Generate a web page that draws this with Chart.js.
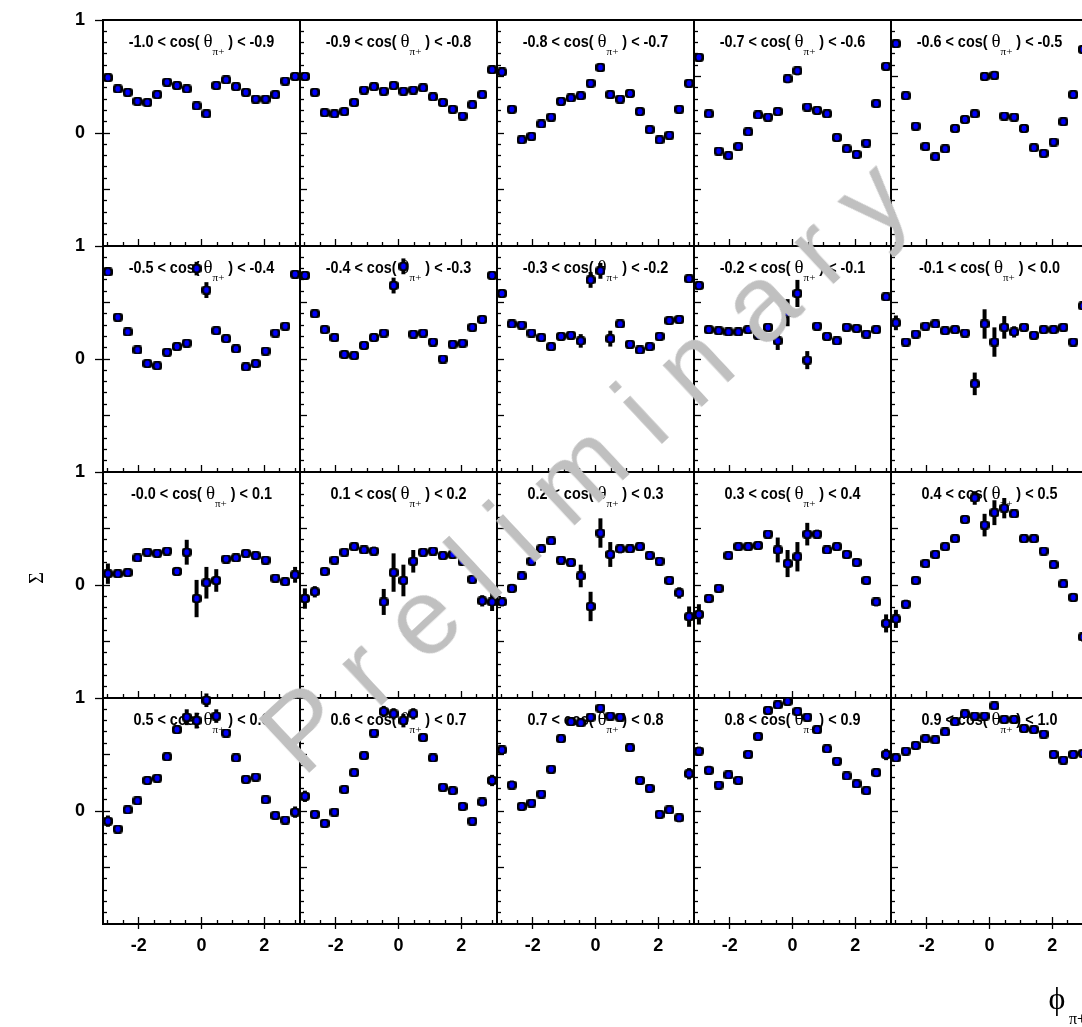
<!DOCTYPE html>
<html>
<head>
<meta charset="utf-8">
<script src="https://cdn.jsdelivr.net/npm/chart.js@4.4.0/dist/chart.umd.min.js"></script>
<style>
  html, body { margin: 0; padding: 0; background: #fff; }
  body { position: relative; width: 1082px; height: 1027px; overflow: hidden; }
  canvas.panel { position: absolute; }
  #wm { position: absolute; left: 584px; top: 466px; z-index: 5;
        transform: translate(-50%, -50%) rotate(-43deg);
        font: 108px "Liberation Sans", Arial, sans-serif; line-height: 1;
        color: rgb(192, 192, 192); white-space: pre; pointer-events: none; }
</style>
</head>
<body>
<div id="wm">P r e l i m i n a r y</div>
<script>
// phi bin centres (20 bins of 18 deg)
const phiBins = [-2.985, -2.670, -2.356, -2.042, -1.728, -1.414, -1.100, -0.785, -0.471, -0.157,
                 0.157, 0.471, 0.785, 1.100, 1.414, 1.728, 2.042, 2.356, 2.670, 2.985];

const cosLo = ['-1.0','-0.9','-0.8','-0.7','-0.6','-0.5','-0.4','-0.3','-0.2','-0.1',
               '-0.0','0.1','0.2','0.3','0.4','0.5','0.6','0.7','0.8','0.9'];
const cosHi = ['-0.9','-0.8','-0.7','-0.6','-0.5','-0.4','-0.3','-0.2','-0.1','0.0',
               '0.1','0.2','0.3','0.4','0.5','0.6','0.7','0.8','0.9','1.0'];

const sigma01 = [0.49,0.39,0.36,0.28,0.27,0.34,0.45,0.42,0.39,0.24,0.17,0.42,0.47,0.41,0.36,0.30,0.30,0.34,0.46,0.50];
const sigma02 = [0.50,0.36,0.18,0.17,0.19,0.27,0.38,0.41,0.37,0.42,0.37,0.38,0.40,0.32,0.27,0.21,0.15,0.25,0.34,0.56];
const sigma03 = [0.54,0.21,-0.06,-0.03,0.08,0.14,0.28,0.31,0.33,0.44,0.58,0.34,0.30,0.35,0.19,0.03,-0.06,-0.02,0.21,0.44];
const sigma04 = [0.67,0.17,-0.16,-0.20,-0.12,0.01,0.16,0.14,0.19,0.48,0.55,0.23,0.20,0.17,-0.04,-0.14,-0.19,-0.09,0.26,0.59];
const sigma05 = [0.79,0.33,0.06,-0.12,-0.21,-0.14,0.04,0.12,0.17,0.50,0.51,0.15,0.14,0.04,-0.13,-0.18,-0.08,0.10,0.34,0.74];
const sigma06 = [0.77,0.37,0.24,0.08,-0.04,-0.06,0.06,0.11,0.14,0.80,0.61,0.25,0.18,0.09,-0.07,-0.04,0.07,0.23,0.29,0.75];
const sigma07 = [0.74,0.40,0.26,0.19,0.04,0.03,0.12,0.19,0.23,0.65,0.82,0.22,0.23,0.15,0.00,0.13,0.14,0.28,0.35,0.74];
const sigma08 = [0.58,0.31,0.30,0.23,0.19,0.11,0.20,0.21,0.16,0.70,0.78,0.18,0.31,0.13,0.08,0.11,0.20,0.34,0.35,0.71];
const sigma09 = [0.65,0.26,0.25,0.24,0.24,0.26,0.21,0.28,0.16,0.41,0.58,-0.01,0.29,0.20,0.16,0.28,0.27,0.22,0.26,0.55];
const sigma10 = [0.32,0.15,0.22,0.29,0.31,0.25,0.26,0.23,-0.22,0.31,0.15,0.28,0.24,0.28,0.21,0.26,0.26,0.28,0.15,0.47];
const sigma11 = [0.10,0.10,0.11,0.24,0.29,0.28,0.30,0.12,0.29,-0.12,0.02,0.04,0.23,0.24,0.28,0.26,0.22,0.06,0.03,0.09];
const sigma12 = [-0.12,-0.06,0.12,0.22,0.29,0.34,0.31,0.30,-0.15,0.11,0.04,0.21,0.29,0.30,0.26,0.27,0.21,0.05,-0.14,-0.15];
const sigma13 = [-0.15,-0.03,0.08,0.21,0.32,0.39,0.22,0.20,0.08,-0.19,0.46,0.27,0.32,0.32,0.34,0.26,0.21,0.04,-0.07,-0.28];
const sigma14 = [-0.26,-0.12,-0.03,0.26,0.34,0.34,0.35,0.45,0.31,0.19,0.25,0.45,0.45,0.31,0.34,0.27,0.20,0.04,-0.15,-0.34];
const sigma15 = [-0.30,-0.17,0.04,0.19,0.27,0.34,0.41,0.58,0.77,0.53,0.64,0.68,0.63,0.41,0.41,0.30,0.18,0.01,-0.11,-0.46];
const sigma16 = [-0.09,-0.16,0.01,0.09,0.27,0.29,0.48,0.72,0.83,0.80,0.98,0.84,0.69,0.47,0.28,0.30,0.10,-0.04,-0.08,-0.01];
const sigma17 = [0.13,-0.03,-0.11,-0.01,0.19,0.34,0.49,0.69,0.88,0.86,0.80,0.86,0.65,0.47,0.21,0.18,0.04,-0.09,0.08,0.27];
const sigma18 = [0.54,0.23,0.04,0.07,0.15,0.37,0.64,0.79,0.78,0.83,0.91,0.84,0.83,0.56,0.27,0.20,-0.03,0.01,-0.06,0.33];
const sigma19 = [0.53,0.36,0.23,0.32,0.27,0.50,0.66,0.89,0.94,0.97,0.88,0.83,0.72,0.55,0.44,0.31,0.24,0.18,0.34,0.50];
const sigma20 = [0.47,0.53,0.58,0.64,0.63,0.70,0.79,0.86,0.84,0.84,0.93,0.81,0.81,0.73,0.72,0.68,0.50,0.45,0.50,0.51];

const err01 = [0.02,0.02,0.02,0.02,0.02,0.02,0.02,0.02,0.02,0.02,0.02,0.02,0.02,0.02,0.02,0.02,0.02,0.02,0.02,0.02];
const err02 = [0.02,0.02,0.02,0.02,0.02,0.02,0.02,0.02,0.02,0.02,0.02,0.02,0.02,0.02,0.02,0.02,0.02,0.02,0.02,0.025];
const err03 = [0.03,0.02,0.02,0.02,0.02,0.02,0.02,0.02,0.02,0.03,0.04,0.02,0.02,0.02,0.02,0.02,0.02,0.02,0.02,0.025];
const err04 = [0.025,0.02,0.02,0.02,0.02,0.02,0.02,0.02,0.02,0.04,0.04,0.02,0.02,0.02,0.02,0.02,0.02,0.02,0.02,0.025];
const err05 = [0.025,0.02,0.02,0.02,0.02,0.02,0.02,0.02,0.025,0.04,0.04,0.025,0.02,0.02,0.02,0.02,0.02,0.02,0.02,0.025];
const err06 = [0.025,0.025,0.02,0.02,0.02,0.02,0.02,0.02,0.03,0.06,0.07,0.03,0.025,0.02,0.02,0.02,0.02,0.02,0.025,0.025];
const err07 = [0.03,0.025,0.02,0.02,0.02,0.02,0.02,0.025,0.035,0.07,0.07,0.035,0.03,0.02,0.02,0.02,0.02,0.02,0.025,0.03];
const err08 = [0.03,0.025,0.02,0.02,0.02,0.02,0.025,0.03,0.06,0.07,0.07,0.07,0.03,0.02,0.02,0.02,0.02,0.02,0.025,0.03];
const err09 = [0.04,0.025,0.02,0.02,0.02,0.02,0.02,0.03,0.08,0.12,0.12,0.08,0.035,0.025,0.02,0.02,0.02,0.02,0.025,0.035];
const err10 = [0.065,0.03,0.025,0.02,0.02,0.02,0.025,0.035,0.10,0.13,0.13,0.10,0.05,0.03,0.02,0.02,0.02,0.02,0.03,0.035];
const err11 = [0.09,0.03,0.025,0.02,0.02,0.02,0.025,0.04,0.11,0.165,0.14,0.10,0.035,0.025,0.02,0.02,0.02,0.025,0.03,0.07];
const err12 = [0.09,0.05,0.025,0.02,0.02,0.02,0.025,0.04,0.115,0.17,0.14,0.10,0.035,0.025,0.02,0.02,0.02,0.03,0.05,0.08];
const err13 = [0.04,0.04,0.025,0.02,0.02,0.02,0.025,0.03,0.10,0.13,0.13,0.11,0.04,0.025,0.02,0.02,0.02,0.03,0.05,0.09];
const err14 = [0.09,0.04,0.03,0.02,0.02,0.02,0.025,0.035,0.11,0.12,0.13,0.10,0.04,0.025,0.02,0.02,0.02,0.03,0.04,0.08];
const err15 = [0.08,0.04,0.03,0.02,0.02,0.02,0.025,0.035,0.06,0.10,0.11,0.09,0.035,0.025,0.02,0.02,0.02,0.03,0.04,0.04];
const err16 = [0.05,0.03,0.025,0.02,0.02,0.02,0.025,0.03,0.07,0.07,0.06,0.06,0.03,0.02,0.02,0.02,0.02,0.025,0.03,0.05];
const err17 = [0.05,0.03,0.025,0.02,0.02,0.02,0.025,0.03,0.05,0.05,0.06,0.05,0.03,0.02,0.02,0.02,0.02,0.025,0.04,0.05];
const err18 = [0.04,0.04,0.025,0.02,0.02,0.02,0.02,0.025,0.03,0.03,0.03,0.03,0.025,0.02,0.02,0.02,0.02,0.025,0.04,0.05];
const err19 = [0.04,0.04,0.03,0.02,0.02,0.02,0.02,0.02,0.025,0.025,0.025,0.025,0.02,0.02,0.02,0.02,0.02,0.025,0.04,0.05];
const err20 = [0.03,0.025,0.02,0.02,0.02,0.02,0.02,0.02,0.02,0.02,0.025,0.02,0.02,0.02,0.02,0.02,0.03,0.03,0.03,0.03];

const sigmaSets = [sigma01,sigma02,sigma03,sigma04,sigma05,sigma06,sigma07,sigma08,sigma09,sigma10,
                   sigma11,sigma12,sigma13,sigma14,sigma15,sigma16,sigma17,sigma18,sigma19,sigma20];
const errSets = [err01,err02,err03,err04,err05,err06,err07,err08,err09,err10,
                 err11,err12,err13,err14,err15,err16,err17,err18,err19,err20];

// tick positions
const xMinorTicks = [-3, -2.5, -1.5, -1, -0.5, 0.5, 1, 1.5, 2.5, 3];
const xMajorTicks = [-2, 0, 2];
const yMinorTicks = [-0.9,-0.8,-0.7,-0.6,-0.4,-0.3,-0.2,-0.1,0.1,0.2,0.3,0.4,0.6,0.7,0.8,0.9];
const yMidTicks = [-0.5, 0, 0.5];
const yLabelTicks = [0, 1];

// page layout
const panelLeft = [103, 300, 497, 694, 891];
const panelTop = [20, 246, 472, 698];
const PW = 197, PH = 226;
const PAD = {left: 103, top: 20, right: 40, bottom: 110};
const Y_LABEL_W = 60, X_LABEL_H = 40;

const BOLD = '"Liberation Sans", Arial, sans-serif';
const SERIF = '"Liberation Serif", "DejaVu Serif", "Times New Roman", serif';

// ROOT style marker: black outline, blue fill
const marker = document.createElement('canvas');
marker.width = 10;
marker.height = 9;
let mctx = marker.getContext('2d');
mctx.fillStyle = '#000';
mctx.beginPath();
mctx.roundRect(0, 0, 10, 9, 3);
mctx.fill();
mctx.fillStyle = '#0000ff';
mctx.beginPath();
mctx.ellipse(5, 4.5, 2.5, 3.0, 0, 0, 2 * Math.PI);
mctx.fill();

function tickAxis(pos, list, len, size, extra) {
  let horiz = (pos == 'bottom');
  let ax = {
    type: 'linear',
    position: pos,
    min: horiz ? -Math.PI : -1,
    max: horiz ? Math.PI : 1,
    afterBuildTicks: s => { s.ticks = list.map(v => ({value: v})); },
    afterFit: s => {
      if (horiz) s.height = size; else s.width = size;
      s.paddingLeft = s.paddingRight = s.paddingTop = s.paddingBottom = 0;
    },
    grid: {drawOnChartArea: false, drawTicks: true, tickLength: len, tickWidth: 1.3, tickColor: '#000'},
    border: {display: false},
    ticks: {display: false, autoSkip: false}
  };
  return Object.assign(ax, extra || {});
}

function drawTitle(ctx, cx, base, lo, hi) {
  let parts = [
    {t: lo + ' < cos( ', f: 'bold 16px ' + BOLD, sx: 0.9, dy: 0},
    {t: '\u03B8', f: '19px ' + SERIF, sx: 1, dy: 0},
    {t: '\u03C0+', f: '11px ' + SERIF, sx: 1, dy: 8},
    {t: ' ) < ' + hi, f: 'bold 16px ' + BOLD, sx: 0.9, dy: 0}
  ];
  let w = 0;
  parts.forEach(p => { ctx.font = p.f; p.w = ctx.measureText(p.t).width * p.sx; w += p.w; });
  let x = cx - w / 2;
  ctx.fillStyle = '#000';
  ctx.textAlign = 'left';
  ctx.textBaseline = 'alphabetic';
  parts.forEach(p => {
    ctx.save();
    ctx.font = p.f;
    ctx.translate(x, base + p.dy);
    ctx.scale(p.sx, 1);
    ctx.fillText(p.t, 0, 0);
    ctx.restore();
    x += p.w;
  });
}

function panelPlugin(i) {
  return {
    id: 'panelDecor',
    beforeDatasetsDraw(chart) {
      const {ctx, chartArea: a, scales} = chart;
      ctx.save();
      ctx.strokeStyle = '#000';
      ctx.lineWidth = 2;
      ctx.beginPath();
      ctx.moveTo(a.left, a.top);
      ctx.lineTo(a.right, a.top);
      ctx.lineTo(a.right, a.bottom);
      ctx.stroke();

      drawTitle(ctx, (a.left + a.right) / 2, a.top + 27, cosLo[i], cosHi[i]);

      // vertical error bars
      let ds = chart.data.datasets[0];
      ctx.lineWidth = 4;
      ds.data.forEach((p, k) => {
        let e = ds.errors[k];
        let px = scales.x.getPixelForValue(p.x);
        ctx.beginPath();
        ctx.moveTo(px, scales.y.getPixelForValue(p.y - e));
        ctx.lineTo(px, scales.y.getPixelForValue(p.y + e));
        ctx.stroke();
      });
      ctx.restore();
    }
  };
}

function figTextPlugin(i) {
  return {
    id: 'figText',
    afterDraw(chart) {
      const {ctx, chartArea: a} = chart;
      ctx.save();
      ctx.fillStyle = '#000';
      ctx.textAlign = 'center';
      ctx.textBaseline = 'middle';
      if (i == 10) {
        ctx.translate(a.left - 65, a.top + 106);
        ctx.rotate(-Math.PI / 2);
        ctx.font = '20px ' + SERIF;
        ctx.fillText('\u03A3', 0, 0);
      }
      if (i == 19) {
        ctx.font = '32px ' + SERIF;
        ctx.fillText('\u03D5', a.left + 166, a.bottom + 77);
        ctx.textAlign = 'left';
        ctx.font = '16px ' + SERIF;
        ctx.fillText('\u03C0+', a.left + 178, a.bottom + 96);
      }
      ctx.restore();
    }
  };
}

const wm = document.getElementById('wm');

function makePanel(i) {
  let r = Math.floor(i / 5);
  let c = i % 5;
  let cv = document.createElement('canvas');
  cv.className = 'panel';
  cv.width = PAD.left + PW + PAD.right;
  cv.height = PAD.top + PH + PAD.bottom;
  cv.style.left = (panelLeft[c] - PAD.left) + 'px';
  cv.style.top = (panelTop[r] - PAD.top) + 'px';
  document.body.insertBefore(cv, wm);

  let points = phiBins.map((x, k) => ({x: x, y: sigmaSets[i][k]}));
  let pad = {left: PAD.left, top: PAD.top, right: PAD.right, bottom: PAD.bottom};

  let scales = {
    x: tickAxis('bottom', xMinorTicks, -4, 0, {weight: 0, border: {display: true, color: '#000', width: 2}}),
    xMid: tickAxis('bottom', xMajorTicks, -7, 0, {weight: 1}),
    y: tickAxis('left', yMinorTicks, -4, 0, {weight: 0, border: {display: true, color: '#000', width: 2}}),
    yMid: tickAxis('left', yMidTicks, -7, 0, {weight: 1})
  };
  if (c == 0) {
    scales.yLab = tickAxis('left', yLabelTicks, 8, Y_LABEL_W, {
      weight: 2,
      ticks: {display: true, autoSkip: false, padding: 10, color: '#000',
              font: {family: BOLD, size: 18, weight: 'bold'}}
    });
    pad.left -= Y_LABEL_W;
  }
  if (r == 3) {
    scales.xLab = tickAxis('bottom', xMajorTicks, 5, X_LABEL_H, {
      weight: 2,
      ticks: {display: true, autoSkip: false, padding: 6, color: '#000', maxRotation: 0,
              font: {family: BOLD, size: 18, weight: 'bold'}}
    });
    pad.bottom -= X_LABEL_H;
  }

  new Chart(cv, {
    type: 'scatter',
    data: {
      datasets: [{
        data: points,
        errors: errSets[i],
        pointStyle: marker,
        pointRadius: 5,
        clip: false
      }]
    },
    options: {
      responsive: false,
      animation: false,
      devicePixelRatio: 1,
      events: [],
      layout: {padding: pad},
      scales: scales,
      plugins: {legend: {display: false}, tooltip: {enabled: false}}
    },
    plugins: [panelPlugin(i), figTextPlugin(i)]
  });
}

for (let i = 0; i < 20; i++) {
  makePanel(i);
}
</script>
</body>
</html>
